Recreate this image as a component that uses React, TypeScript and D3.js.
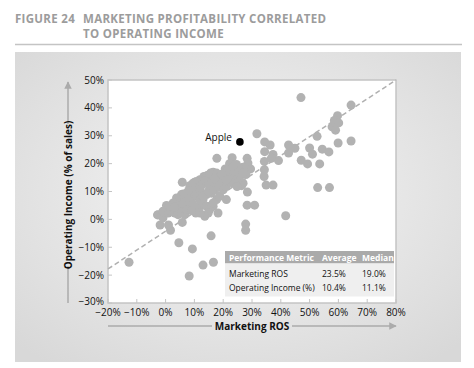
import * as d3 from "d3";

// [marketing ROS %, operating income %]
const companies: [number, number][] = [
  // outer points
  [47.0, 43.7], [64.4, 41.0], [31.7, 30.7], [59.7, 37.2], [58.6, 35.5], [60.1, 34.6],
  [57.8, 33.2], [59.0, 32.0], [59.9, 27.4], [64.4, 28.1], [52.6, 29.8], [50.0, 25.6],
  [51.0, 23.4], [54.4, 25.2], [56.7, 24.2], [53.5, 19.9], [49.3, 19.9], [47.1, 21.2],
  [52.8, 11.4], [56.9, 11.4], [41.7, 1.3], [42.7, 26.7], [44.9, 25.5], [42.7, 23.8],
  [34.4, 27.8], [36.3, 26.7], [34.4, 24.3], [37.3, 23.3], [39.2, 21.1], [36.7, 21.9],
  [34.3, 20.8], [34.3, 17.8], [34.2, 15.4], [34.9, 12.3], [37.3, 12.3], [28.3, 21.9],
  [28.6, 20.2], [29.5, 18.1], [27.9, 16.1], [26.9, 18.7], [28.4, 9.8], [28.3, 5.1],
  [30.9, 5.1], [27.8, -1.7], [27.8, -3.9], [17.8, 21.9], [23.1, 22.1], [22.2, 20.0],
  [24.6, 19.7], [20.7, 18.1], [23.1, 18.1], [25.3, 18.4], [21.1, 7.1], [15.8, -5.9],
  [16.6, -15.4], [13.0, -16.4], [9.3, -10.6], [4.6, -8.4], [8.2, -20.3], [-12.7, -15.4],
  [5.8, -1.1], [1.7, -3.9], [1.0, -2.0], [-1.9, -2.0], [-2.8, 1.6], [-0.9, 0.6],
  [5.8, 13.3], [8.4, 12.1],
  // dense cluster
  [0.3, 5.0], [2.6, 3.5], [3.8, 5.9], [4.9, 7.1], [5.8, 8.3], [6.1, 9.1], [7.2, 8.3],
  [4.9, 4.7], [6.7, 4.7], [7.8, 5.9], [9.0, 7.1], [9.5, 8.3], [10.1, 10.0], [10.7, 11.8],
  [11.9, 11.2], [12.5, 9.4], [11.3, 8.3], [10.1, 13.3], [11.9, 14.2], [13.3, 15.4],
  [14.4, 15.7], [15.6, 16.6], [16.5, 16.0], [17.7, 15.4], [18.8, 14.2], [20.0, 14.8],
  [19.4, 13.0], [18.2, 11.8], [17.1, 10.6], [15.9, 9.4], [14.2, 8.9], [13.0, 7.1],
  [11.9, 4.7], [10.7, 4.1], [14.2, 4.7], [15.3, 3.5], [16.5, 4.7], [17.7, 7.1],
  [18.2, 2.3], [14.8, 2.3], [13.6, 1.1], [11.9, 2.3], [10.5, 2.3], [16.5, 5.9],
  [18.8, 8.3], [20.0, 10.6], [21.1, 11.8], [22.3, 13.6], [23.5, 13.0], [24.6, 14.2],
  [25.8, 15.4], [26.9, 13.0], [26.4, 12.1], [24.8, 11.8], [23.5, 16.0], [21.7, 15.4],
  [22.3, 17.2], [24.0, 16.9], [-2.6, 1.7], [-0.9, 2.9], [0.9, 2.3], [2.0, 2.9],
  [3.2, 2.3], [4.3, 1.7], [5.5, 2.3], [6.7, 1.7], [7.2, 3.5], [5.8, 5.9],
  [9.5, 13.0], [10.7, 13.6], [14.2, 15.4], [15.3, 16.0], [16.5, 16.9], [17.7, 16.6],
  [18.8, 15.2], [20.0, 13.6], [11.9, 11.8], [7.2, 9.4], [5.5, 8.9], [3.8, 7.7],
  [2.6, 5.9], [1.4, 4.7], [11.9, 7.1], [13.0, 8.3], [14.8, 10.0], [16.5, 11.2],
  [18.2, 13.0], [20.2, 16.6], [21.7, 17.8], [23.5, 19.0], [25.2, 16.9], [26.9, 16.6],
  [8.4, 6.5], [9.6, 5.3], [12.8, 12.6], [13.8, 13.9], [15.0, 12.4], [16.2, 13.6],
  [17.0, 14.6], [19.6, 16.2], [21.2, 14.2], [9.0, 3.2], [3.0, 4.4], [8.0, 10.4],
];

const apple: [number, number] = [25.8, 27.8];
const fitLine: [number, number][] = [[-20, -17.8], [80, 50]];

const xTicks = [-20, -10, 0, 10, 20, 30, 40, 50, 60, 70, 80];
const yTicks = [-30, -20, -10, 0, 10, 20, 30, 40, 50];

const tableHeader = ["Performance Metric", "Average", "Median"];
const tableRows = [
  ["Marketing ROS", "23.5%", "19.0%"],
  ["Operating Income (%)", "10.4%", "11.1%"],
];

const fmt = (v: number) => (v < 0 ? "\u2212" + Math.abs(v) : String(v)) + "%";

export default function App() {
  const width = 474;
  const height = 368;
  const plot = { left: 108, right: 396, top: 80, bottom: 303 };

  const x = d3.scaleLinear().domain([-20, 80]).range([plot.left, plot.right]);
  const y = d3.scaleLinear().domain([-30, 50]).range([plot.bottom, plot.top]);
  const line = d3.line<[number, number]>().x((d) => x(d[0])).y((d) => y(d[1]));

  const font = "'Open Sans', 'DejaVu Sans', sans-serif";
  const dot = "#b2b2b2";
  const axisGray = "#c4c4c4";

  // table geometry
  const tX = 225;
  const tW = 169;
  const colX = [229, 322, 362];

  return (
    <svg
      width={width}
      height={height}
      style={{ position: "absolute", left: 0, top: 0, fontFamily: font }}
    >
      <defs>
        <radialGradient id="bg" cx="0.5" cy="0.45" r="0.7">
          <stop offset="0%" stopColor="#f6f6f6" />
          <stop offset="100%" stopColor="#d8d8d8" />
        </radialGradient>
        <marker id="arr" viewBox="0 0 10 10" refX="9" refY="5" markerWidth="5" markerHeight="5" orient="auto">
          <path d="M0,0 L10,5 L0,10 z" fill="#ababab" />
        </marker>
      </defs>
      <rect width={width} height={height} fill="#fff" />

      {/* title */}
      <g fill="#9c9c9c" fontWeight={700} fontSize={11.5} letterSpacing={0.3}>
        <text x={15} y={23}>FIGURE 24</text>
        <text x={83} y={23}>MARKETING PROFITABILITY CORRELATED</text>
        <text x={83} y={37.5}>TO OPERATING INCOME</text>
      </g>
      <line x1={15} x2={462} y1={44.5} y2={44.5} stroke="#c4c4c4" strokeWidth={1.5} />

      {/* panel */}
      <rect x={15} y={52} width={446} height={310} fill="url(#bg)" />

      {/* plot area */}
      <rect
        x={plot.left}
        y={plot.top}
        width={plot.right - plot.left}
        height={plot.bottom - plot.top}
        fill="#fff"
        stroke={axisGray}
        strokeWidth={1.5}
      />

      {/* ticks */}
      {yTicks.map((t) => (
        <g key={"y" + t}>
          <line x1={plot.left} x2={plot.left + 4} y1={y(t)} y2={y(t)} stroke={axisGray} />
          <text x={plot.left - 4} y={y(t) + (t === -30 ? 1.5 : 3.5)} textAnchor="end" fontSize={10} fill="#111">
            {fmt(t)}
          </text>
        </g>
      ))}
      {xTicks.map((t) => (
        <g key={"x" + t}>
          <line x1={x(t)} x2={x(t)} y1={plot.bottom} y2={plot.bottom - 4} stroke={axisGray} />
          <text x={x(t)} y={plot.bottom + 13} textAnchor="middle" fontSize={10} fill="#111">
            {fmt(t)}
          </text>
        </g>
      ))}

      {/* fit line */}
      <path d={line(fitLine) ?? ""} fill="none" stroke="#b0b0b0" strokeWidth={1.5} strokeDasharray="5,3" />

      {/* points */}
      {companies.map((d, i) => (
        <circle key={i} cx={x(d[0])} cy={y(d[1])} r={4.5} fill={dot} />
      ))}
      <circle cx={x(apple[0])} cy={y(apple[1])} r={3.8} fill="#000" />
      <text x={x(apple[0]) - 8} y={y(apple[1]) - 1} textAnchor="end" fontSize={10} fill="#111">
        Apple
      </text>

      {/* table */}
      <rect x={tX} y={251} width={tW} height={12.5} fill="#aaaaaa" />
      <rect x={tX} y={263.5} width={tW} height={33} fill="#efefef" />
      {tableHeader.map((h, i) => (
        <text key={h} x={colX[i]} y={260.5} fontSize={8.5} fontWeight={700} fill="#fff">
          {h}
        </text>
      ))}
      {tableRows.map((row, r) =>
        row.map((c, i) => (
          <text key={r + "-" + i} x={colX[i]} y={277 + r * 14} fontSize={8.5} fill="#111">
            {c}
          </text>
        ))
      )}

      {/* axis titles with arrows */}
      <line x1={68} x2={68} y1={303} y2={266} stroke="#ababab" strokeWidth={1.5} />
      <line x1={68} x2={68} y1={124} y2={82} stroke="#ababab" strokeWidth={1.5} markerEnd="url(#arr)" />
      <text
        transform="translate(72,195) rotate(-90)"
        textAnchor="middle"
        fontSize={10}
        fontWeight={700}
        fill="#111"
      >
        Operating Income (% of sales)
      </text>
      <line x1={108} x2={212} y1={326} y2={326} stroke="#ababab" strokeWidth={1.5} />
      <line x1={292} x2={396} y1={326} y2={326} stroke="#ababab" strokeWidth={1.5} markerEnd="url(#arr)" />
      <text x={252} y={330} textAnchor="middle" fontSize={10} fontWeight={700} fill="#111">
        Marketing ROS
      </text>
    </svg>
  );
}
